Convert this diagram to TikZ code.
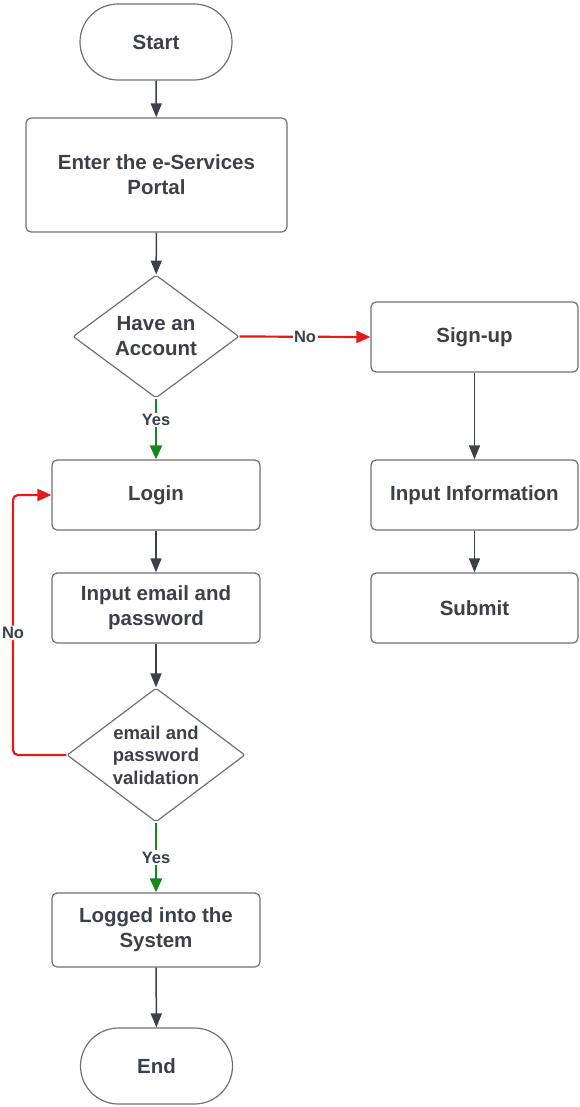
\documentclass[tikz,border=0pt]{standalone}
\usepackage{fontspec}
\setmainfont{Liberation Sans}
\usetikzlibrary{arrows.meta,shapes.geometric,shapes.misc}
\definecolor{ink}{HTML}{3A414A}
\definecolor{edgegray}{HTML}{6E7176}
\definecolor{nored}{HTML}{E41B1B}
\definecolor{yesgreen}{HTML}{16891C}
\begin{document}
\begin{tikzpicture}[x=1pt,y=-1pt,
  textstyle/.style={text=ink, font=\bfseries\fontsize{20.5}{25}\selectfont, align=center},
  stepbox/.style={textstyle, draw=edgegray, line width=1.2pt, rounded corners=5pt,
    fill=white, minimum width=208pt, minimum height=70pt, inner sep=0pt},
  terminal/.style={textstyle, rounded rectangle, draw=edgegray, line width=1.2pt,
    fill=white, minimum width=152pt, minimum height=76pt, inner sep=0pt},
  decision/.style={textstyle, diamond, draw=edgegray, line width=1.2pt, fill=white,
    rounded corners=2pt, inner sep=0pt},
  flow/.style={draw=ink, line width=1.5pt, -{Triangle[length=14pt,width=11pt]}},
  noflow/.style={flow, draw=nored, line width=2.2pt, -{Triangle[length=14pt,width=12pt,fill=nored]}},
  yesflow/.style={flow, draw=yesgreen, line width=2.4pt, -{Triangle[length=14pt,width=12pt,fill=yesgreen]}},
  lbl/.style={fill=white, text=ink, inner sep=1.5pt, font=\bfseries\fontsize{16.5}{18}\selectfont}
]
\useasboundingbox (0,0) rectangle (580,1107);

% main column
\node[terminal] (start) at (156,42) {Start};
\node[stepbox, minimum width=261pt, minimum height=114pt] (enter) at (156.5,175)
  {Enter the e-Services\\Portal};
\node[decision, minimum width=166pt, minimum height=123pt, aspect=1.35] (acct) at (156,336.5)
  {Have an\\Account};
\node[stepbox] (login) at (156,495) {Login};
\node[stepbox] (creds) at (156,608) {Input email and\\password};
\node[decision, minimum width=178pt, minimum height=134pt, aspect=1.33,
  font=\bfseries\fontsize{18.5}{22.5}\selectfont] (valid) at (156,755)
  {email and\\password\\validation};
\node[stepbox, minimum height=74pt] (logged) at (156,930) {Logged into the\\System};
\node[terminal] (end) at (156.5,1066) {End};

% sign-up column
\node[stepbox, minimum width=207pt] (signup) at (474.5,337) {Sign-up};
\node[stepbox, minimum width=207pt] (info) at (474.5,495) {Input Information};
\node[stepbox, minimum width=207pt] (submit) at (474.5,608) {Submit};

% connectors
\draw[flow] (start) -- (enter);
\draw[flow] (enter) -- (acct);
\draw[noflow] (acct.east) -- node[lbl] {No} (signup.west);
\draw[yesflow] (acct.south) -- node[lbl, pos=0.35] {Yes} (login.north);
\draw[flow] (login) -- (creds);
\draw[flow] (creds) -- (valid);
\coordinate (loopx) at (13,0);
\draw[noflow, rounded corners=5pt] (valid.west) -- (valid.west -| loopx)
  -- node[lbl, pos=0.47] {No} (login.west -| loopx) -- (login.west);
\draw[yesflow] (valid.south) -- node[lbl] {Yes} (logged.north);
\draw[flow] (logged) -- (end);
\draw[flow] (signup) -- (info);
\draw[flow] (info) -- (submit);
\end{tikzpicture}
\end{document}
